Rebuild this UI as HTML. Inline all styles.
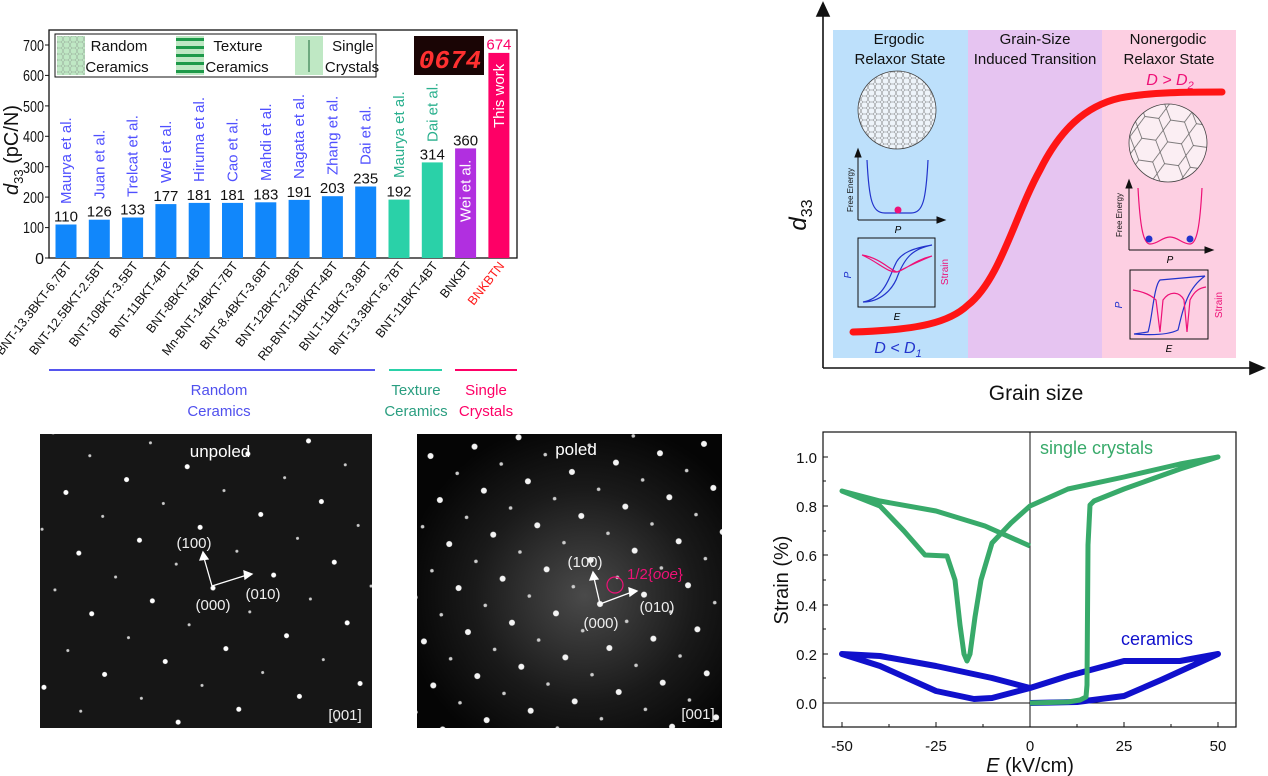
<!DOCTYPE html>
<html><head><meta charset="utf-8"><style>
html,body{margin:0;padding:0;background:#fff;}
svg{display:block;font-family:"Liberation Sans",sans-serif;}
</style></head><body>
<svg width="1268" height="776" viewBox="0 0 1268 776" xmlns="http://www.w3.org/2000/svg">
<defs>
<pattern id="hexS" width="7" height="6" patternUnits="userSpaceOnUse">
<path d="M0,3 L1.5,0 L5.5,0 L7,3 L5.5,6 L1.5,6 Z" fill="none" stroke="#777" stroke-width="0.5"/>
</pattern>
<pattern id="hexL" width="26" height="22" patternUnits="userSpaceOnUse" patternTransform="rotate(8)">
<path d="M0,11 L6,0 L20,0 L26,11 L20,22 L6,22 Z" fill="none" stroke="#555" stroke-width="0.7"/>
</pattern>
<pattern id="spot1" width="62" height="62" patternUnits="userSpaceOnUse" patternTransform="translate(213,588) rotate(-12)">
<circle cx="0" cy="0" r="2.5" fill="#fff"/><circle cx="62" cy="0" r="2.5" fill="#fff"/><circle cx="0" cy="62" r="2.5" fill="#fff"/><circle cx="62" cy="62" r="2.5" fill="#fff"/>
<circle cx="31" cy="31" r="1.5" fill="#ccc"/>
</pattern>
<pattern id="spot2" width="45" height="45" patternUnits="userSpaceOnUse" patternTransform="translate(600,604) rotate(-12)">
<circle cx="0" cy="0" r="3" fill="#f4f4f4"/><circle cx="45" cy="0" r="3" fill="#f4f4f4"/><circle cx="0" cy="45" r="3" fill="#f4f4f4"/><circle cx="45" cy="45" r="3" fill="#f4f4f4"/>
<circle cx="22.5" cy="22.5" r="1.8" fill="#ccc"/>
</pattern>
<radialGradient id="glow" cx="0.55" cy="0.55" r="0.6"><stop offset="0" stop-color="#4a4a4a"/><stop offset="0.6" stop-color="#1a1a1a"/><stop offset="1" stop-color="#050505"/></radialGradient>
<clipPath id="c1"><circle cx="897" cy="110" r="39"/></clipPath>
<clipPath id="c2"><circle cx="1168" cy="143" r="39"/></clipPath>
</defs>

<!-- ===== BAR CHART ===== -->
<g font-size="16" fill="#111">
<rect x="49" y="30" width="468" height="228" fill="none" stroke="#111" stroke-width="1.3"/>
<g text-anchor="end">
<text x="44" y="264">0</text><text x="44" y="233" textLength="21" lengthAdjust="spacingAndGlyphs">100</text><text x="44" y="203" textLength="21" lengthAdjust="spacingAndGlyphs">200</text><text x="44" y="173" textLength="21" lengthAdjust="spacingAndGlyphs">300</text><text x="44" y="142" textLength="21" lengthAdjust="spacingAndGlyphs">400</text><text x="44" y="112" textLength="21" lengthAdjust="spacingAndGlyphs">500</text><text x="44" y="81" textLength="21" lengthAdjust="spacingAndGlyphs">600</text><text x="44" y="51" textLength="21" lengthAdjust="spacingAndGlyphs">700</text>
</g>
<g stroke="#111" stroke-width="1"><line x1="45" y1="258" x2="49" y2="258"/><line x1="45" y1="227.6" x2="49" y2="227.6"/><line x1="45" y1="197.1" x2="49" y2="197.1"/><line x1="45" y1="166.7" x2="49" y2="166.7"/><line x1="45" y1="136.3" x2="49" y2="136.3"/><line x1="45" y1="105.9" x2="49" y2="105.9"/><line x1="45" y1="75.4" x2="49" y2="75.4"/><line x1="45" y1="45" x2="49" y2="45"/></g>
<text transform="translate(18,150) rotate(-90)" text-anchor="middle" font-size="20"><tspan font-style="italic">d</tspan><tspan font-size="13" dy="5">33</tspan><tspan dy="-5"> (pC/N)</tspan></text>
</g>
<g>
<rect x="55.5" y="224.5" width="21" height="33.5" fill="#1187fb"/>
<rect x="88.8" y="219.7" width="21" height="38.3" fill="#1187fb"/>
<rect x="122.1" y="217.5" width="21" height="40.5" fill="#1187fb"/>
<rect x="155.4" y="204.1" width="21" height="53.9" fill="#1187fb"/>
<rect x="188.7" y="202.9" width="21" height="55.1" fill="#1187fb"/>
<rect x="222" y="202.9" width="21" height="55.1" fill="#1187fb"/>
<rect x="255.3" y="202.3" width="21" height="55.7" fill="#1187fb"/>
<rect x="288.6" y="199.9" width="21" height="58.1" fill="#1187fb"/>
<rect x="321.9" y="196.2" width="21" height="61.8" fill="#1187fb"/>
<rect x="355.2" y="186.5" width="21" height="71.5" fill="#1187fb"/>
<rect x="388.5" y="199.6" width="21" height="58.4" fill="#2ad1a8"/>
<rect x="421.8" y="162.4" width="21" height="95.6" fill="#2ad1a8"/>
<rect x="455.1" y="148.4" width="21" height="109.6" fill="#b12fe0"/>
<rect x="488.4" y="52.9" width="21" height="205.1" fill="#fe0066"/>
</g>
<g font-size="15" fill="#111" text-anchor="middle">
<text x="66" y="221.5">110</text><text x="99.3" y="216.7">126</text><text x="132.6" y="214.5">133</text><text x="165.9" y="201.1">177</text><text x="199.2" y="199.9">181</text><text x="232.5" y="199.9">181</text><text x="265.8" y="199.3">183</text><text x="299.1" y="196.9">191</text><text x="332.4" y="193.2">203</text><text x="365.7" y="183.5">235</text><text x="399" y="196.6">192</text><text x="432.3" y="159.4">314</text><text x="465.6" y="145.4">360</text>
<text x="498.9" y="49.5" fill="#fe0066">674</text>
</g>
<g font-size="15" fill="#5050ff">
<text transform="translate(71,204) rotate(-90)">Maurya et al.</text>
<text transform="translate(104.3,199) rotate(-90)">Juan et al.</text>
<text transform="translate(137.6,197) rotate(-90)">Trelcat et al.</text>
<text transform="translate(170.9,183) rotate(-90)">Wei et al.</text>
<text transform="translate(204.2,182) rotate(-90)">Hiruma et al.</text>
<text transform="translate(237.5,182) rotate(-90)">Cao et al.</text>
<text transform="translate(270.8,181) rotate(-90)">Mahdi et al.</text>
<text transform="translate(304.1,179) rotate(-90)">Nagata et al.</text>
<text transform="translate(337.4,175) rotate(-90)">Zhang et al.</text>
<text transform="translate(370.7,165) rotate(-90)">Dai et al.</text>
<text transform="translate(404,178) rotate(-90)" fill="#2ab08e">Maurya et al.</text>
<text transform="translate(437.3,142) rotate(-90)" fill="#2ab08e">Dai et al.</text>
<text transform="translate(470.6,222) rotate(-90)" fill="#fff">Wei et al.</text>
<text transform="translate(503.9,128) rotate(-90)" fill="#fff">This work</text>
</g>
<g font-size="12.5" fill="#111" text-anchor="end">
<text transform="translate(72,266) rotate(-52)">BNT-13.3BKT-6.7BT</text>
<text transform="translate(105.3,266) rotate(-52)">BNT-12.5BKT-2.5BT</text>
<text transform="translate(138.6,266) rotate(-52)">BNT-10BKT-3.5BT</text>
<text transform="translate(171.9,266) rotate(-52)">BNT-11BKT-4BT</text>
<text transform="translate(205.2,266) rotate(-52)">BNT-8BKT-4BT</text>
<text transform="translate(238.5,266) rotate(-52)">Mn-BNT-14BKT-7BT</text>
<text transform="translate(271.8,266) rotate(-52)">BNT-8.4BKT-3.6BT</text>
<text transform="translate(305.1,266) rotate(-52)">BNT-12BKT-2.8BT</text>
<text transform="translate(338.4,266) rotate(-52)">Rb-BNT-11BKRT-4BT</text>
<text transform="translate(371.7,266) rotate(-52)">BNLT-11BKT-3.8BT</text>
<text transform="translate(405,266) rotate(-52)">BNT-13.3BKT-6.7BT</text>
<text transform="translate(438.3,266) rotate(-52)">BNT-11BKT-4BT</text>
<text transform="translate(471.6,266) rotate(-52)">BNKBT</text>
<text transform="translate(504.9,266) rotate(-52)" fill="#ff1a1a">BNKBTN</text>
</g>
<!-- legend -->
<rect x="55" y="34" width="321" height="43" fill="#fff" stroke="#111" stroke-width="1"/>
<rect x="57" y="36" width="28" height="39" fill="#bfe8c4"/>
<rect x="57" y="36" width="28" height="39" fill="url(#hexS)" opacity="0.6"/>
<rect x="176" y="36" width="28" height="39" fill="#bfe8c4"/>
<g fill="#1e9a4a"><rect x="176" y="38" width="28" height="3"/><rect x="176" y="46" width="28" height="3"/><rect x="176" y="54" width="28" height="3"/><rect x="176" y="62" width="28" height="3"/><rect x="176" y="70" width="28" height="3"/></g>
<rect x="295" y="36" width="28" height="39" fill="#bfe8c4"/>
<line x1="309" y1="40" x2="309" y2="72" stroke="#1e6a3a" stroke-width="1"/>
<g font-size="15" fill="#111" text-anchor="middle">
<text x="119" y="51">Random</text><text x="117" y="72">Ceramics</text>
<text x="238" y="51">Texture</text><text x="237" y="72">Ceramics</text>
<text x="353" y="51">Single</text><text x="352" y="72">Crystals</text>
</g>
<rect x="414" y="36" width="70" height="39" fill="#1a0505"/>
<text x="450" y="68" text-anchor="middle" font-size="26" font-style="italic" font-family="Liberation Mono" fill="#ff3030" font-weight="bold">0674</text>
<!-- category lines -->
<line x1="49" y1="370" x2="375" y2="370" stroke="#5555ee" stroke-width="2"/>
<line x1="389" y1="370" x2="442" y2="370" stroke="#2ad1a8" stroke-width="2"/>
<line x1="455" y1="370" x2="517" y2="370" stroke="#fe0066" stroke-width="2"/>
<g font-size="15" text-anchor="middle">
<text x="219" y="395" fill="#5050ee">Random</text><text x="219" y="416" fill="#5050ee">Ceramics</text>
<text x="416" y="395" fill="#2a9e80">Texture</text><text x="416" y="416" fill="#2a9e80">Ceramics</text>
<text x="486" y="395" fill="#fe0066">Single</text><text x="486" y="416" fill="#fe0066">Crystals</text>
</g>

<!-- ===== TOP RIGHT SCHEMATIC ===== -->
<rect x="833" y="30" width="135" height="328" fill="#bde0fb"/>
<rect x="968" y="30" width="134" height="328" fill="#e6c4f1"/>
<rect x="1102" y="30" width="134" height="328" fill="#fdcfe2"/>
<g stroke="#111" stroke-width="1.6" fill="#111">
<line x1="823" y1="368" x2="823" y2="10"/><path d="M817,16 L823,3 L829,16 Z"/>
<line x1="823" y1="368" x2="1255" y2="368"/><path d="M1250,362 L1264,368 L1250,374 Z"/>
</g>
<g font-size="15" fill="#111" text-anchor="middle">
<text x="899" y="44">Ergodic</text><text x="900" y="64">Relaxor State</text>
<text x="1035" y="44">Grain-Size</text><text x="1035" y="64">Induced Transition</text>
<text x="1168" y="44">Nonergodic</text><text x="1169" y="64">Relaxor State</text>
</g>
<text x="1170" y="85" text-anchor="middle" font-size="16" font-style="italic" fill="#ee1177">D &gt; D<tspan font-size="11" dy="4">2</tspan></text>
<text x="898" y="353" text-anchor="middle" font-size="16" font-style="italic" fill="#2233cc">D &lt; D<tspan font-size="11" dy="4">1</tspan></text>
<text transform="translate(806,215) rotate(-90)" text-anchor="middle" font-size="24" font-style="italic" fill="#111">d<tspan font-size="16" dy="6" font-style="normal">33</tspan></text>
<text x="1036" y="400" text-anchor="middle" font-size="21" fill="#111">Grain size</text>
<!-- grains -->
<circle cx="897" cy="110" r="39" fill="#eef4fa"/>
<rect x="855" y="70" width="84" height="80" fill="url(#hexS)" clip-path="url(#c1)"/>
<circle cx="897" cy="110" r="39" fill="none" stroke="#444" stroke-width="0.8"/>
<circle cx="1168" cy="143" r="39" fill="#fbeef3"/>
<rect x="1126" y="100" width="84" height="86" fill="url(#hexL)" clip-path="url(#c2)"/>
<circle cx="1168" cy="143" r="39" fill="none" stroke="#444" stroke-width="0.8"/>
<!-- free energy left -->
<g stroke="#111" stroke-width="1" fill="#111">
<line x1="858" y1="220" x2="858" y2="152"/><path d="M855,157 L858,149 L861,157Z"/>
<line x1="858" y1="220" x2="942" y2="220"/><path d="M937,217 L945,220 L937,223Z"/>
</g>
<path d="M867,160 C869,200 872,213 885,213 L911,213 C923,213 926,200 928,160" fill="none" stroke="#2233cc" stroke-width="1.2"/>
<circle cx="898" cy="210" r="3.5" fill="#ee1177"/>
<text transform="translate(853,190) rotate(-90)" text-anchor="middle" font-size="8" fill="#111">Free Energy</text>
<text x="898" y="233" text-anchor="middle" font-size="10" font-style="italic">P</text>
<rect x="858" y="238" width="77" height="69" fill="none" stroke="#111" stroke-width="1"/>
<path d="M863,302 C885,298 890,275 895,265 C900,252 915,248 932,245 C912,249 905,258 898,275 C893,290 880,302 863,302Z" fill="none" stroke="#2233cc" stroke-width="1.2"/>
<path d="M862,255 C880,258 890,270 897,272 C905,270 915,260 932,256 M862,255 C878,262 888,273 897,272 C905,268 917,262 932,256" fill="none" stroke="#ee1177" stroke-width="1.2"/>
<text transform="translate(851,275) rotate(-90)" text-anchor="middle" font-size="10" font-style="italic" fill="#2233cc">P</text>
<text transform="translate(948,272) rotate(-90)" text-anchor="middle" font-size="10" fill="#ee1177">Strain</text>
<text x="897" y="320" text-anchor="middle" font-size="10" font-style="italic">E</text>
<!-- free energy right -->
<g stroke="#111" stroke-width="1" fill="#111">
<line x1="1129" y1="250" x2="1129" y2="183"/><path d="M1126,188 L1129,180 L1132,188Z"/>
<line x1="1129" y1="250" x2="1210" y2="250"/><path d="M1205,247 L1213,250 L1205,253Z"/>
</g>
<path d="M1138,188 C1140,225 1143,244 1150,244 C1158,244 1162,237 1170,237 C1178,237 1182,244 1190,244 C1197,244 1200,225 1202,188" fill="none" stroke="#ee1177" stroke-width="1.2"/>
<circle cx="1149" cy="239" r="3.5" fill="#2233cc"/><circle cx="1190" cy="239" r="3.5" fill="#2233cc"/>
<text transform="translate(1122,215) rotate(-90)" text-anchor="middle" font-size="8" fill="#111">Free Energy</text>
<text x="1170" y="263" text-anchor="middle" font-size="10" font-style="italic">P</text>
<rect x="1130" y="270" width="78" height="69" fill="none" stroke="#111" stroke-width="1"/>
<path d="M1134,334 L1148,332 C1152,320 1154,285 1160,280 L1205,276 M1134,334 C1160,336 1172,333 1178,330 C1182,315 1185,290 1205,276" fill="none" stroke="#2233cc" stroke-width="1.2"/>
<path d="M1133,290 C1145,292 1152,296 1156,300 L1160,332 L1163,300 C1170,290 1180,292 1184,300 L1187,332 L1190,300 C1195,290 1200,288 1206,287" fill="none" stroke="#ee1177" stroke-width="1.2"/>
<text transform="translate(1122,305) rotate(-90)" text-anchor="middle" font-size="10" font-style="italic" fill="#2233cc">P</text>
<text transform="translate(1222,305) rotate(-90)" text-anchor="middle" font-size="10" fill="#ee1177">Strain</text>
<text x="1169" y="352" text-anchor="middle" font-size="10" font-style="italic">E</text>
<!-- sigmoid -->
<path d="M853,332 C920,330 950,322 968,305 C1000,280 1015,215 1040,170 C1060,130 1085,106 1120,98 C1150,92 1190,92 1222,92" fill="none" stroke="#ff1515" stroke-width="7" stroke-linecap="round"/>

<!-- ===== SAED IMAGES ===== -->
<rect x="40" y="434" width="332" height="294" fill="#161616"/>
<rect x="40" y="434" width="332" height="294" fill="url(#spot1)"/>
<rect x="417" y="434" width="305" height="294" fill="url(#glow)"/>
<rect x="417" y="434" width="305" height="294" fill="url(#spot2)"/>
<g fill="#fff" font-size="17" text-anchor="middle">
<text x="220" y="457">unpoled</text><text x="576" y="455">poled</text>
</g>
<g fill="#eee" font-size="15" text-anchor="middle">
<text x="194" y="548">(100)</text><text x="213" y="610">(000)</text><text x="263" y="599">(010)</text>
<text x="345" y="720">[001]</text>
<text x="585" y="567">(100)</text><text x="601" y="628">(000)</text><text x="657" y="612">(010)</text>
<text x="698" y="719">[001]</text>
</g>
<g stroke="#fff" stroke-width="1.3" fill="#fff">
<line x1="212" y1="586" x2="204" y2="558"/><path d="M200,560 L203,552 L208,559Z"/>
<line x1="212" y1="586" x2="247" y2="575"/><path d="M244,571 L252,574 L245,579Z"/>
<line x1="600" y1="604" x2="594" y2="578"/><path d="M590,580 L593,572 L598,579Z"/>
<line x1="600" y1="604" x2="632" y2="592"/><path d="M629,588 L637,591 L630,596Z"/>
</g>
<circle cx="615" cy="585" r="8" fill="none" stroke="#ee1177" stroke-width="1.2"/>
<text x="627" y="579" font-size="15" fill="#ee1177">1/2{<tspan font-style="italic">ooe</tspan>}</text>

<!-- ===== STRAIN LOOPS ===== -->
<rect x="823" y="432" width="413" height="295" fill="none" stroke="#111" stroke-width="1.2"/>
<line x1="1030" y1="432" x2="1030" y2="727" stroke="#111" stroke-width="1"/>
<line x1="823" y1="703" x2="1236" y2="703" stroke="#111" stroke-width="1"/>
<g stroke="#111" stroke-width="1">
<line x1="842" y1="727" x2="842" y2="722"/><line x1="936" y1="727" x2="936" y2="722"/><line x1="1124" y1="727" x2="1124" y2="722"/><line x1="1218" y1="727" x2="1218" y2="722"/>
<line x1="889" y1="727" x2="889" y2="724"/><line x1="983" y1="727" x2="983" y2="724"/><line x1="1077" y1="727" x2="1077" y2="724"/><line x1="1171" y1="727" x2="1171" y2="724"/>
<line x1="823" y1="703" x2="828" y2="703"/><line x1="823" y1="654" x2="828" y2="654"/><line x1="823" y1="605" x2="828" y2="605"/><line x1="823" y1="555" x2="828" y2="555"/><line x1="823" y1="506" x2="828" y2="506"/><line x1="823" y1="457" x2="828" y2="457"/>
<line x1="823" y1="678" x2="826" y2="678"/><line x1="823" y1="629" x2="826" y2="629"/><line x1="823" y1="580" x2="826" y2="580"/><line x1="823" y1="531" x2="826" y2="531"/><line x1="823" y1="481" x2="826" y2="481"/>
</g>
<g font-size="15" fill="#111" text-anchor="end">
<text x="817" y="709">0.0</text><text x="817" y="660">0.2</text><text x="817" y="611">0.4</text><text x="817" y="561">0.6</text><text x="817" y="512">0.8</text><text x="817" y="463">1.0</text>
</g>
<g font-size="15" fill="#111" text-anchor="middle">
<text x="842" y="751">-50</text><text x="936" y="751">-25</text><text x="1030" y="751">0</text><text x="1124" y="751">25</text><text x="1218" y="751">50</text>
</g>
<text x="1030" y="772" text-anchor="middle" font-size="20" fill="#111"><tspan font-style="italic">E</tspan> (kV/cm)</text>
<text transform="translate(788,580) rotate(-90)" text-anchor="middle" font-size="20" fill="#111">Strain (%)</text>
<path d="M1030,703 L1077,702 L1124,696 L1161,680 L1218,654 L1180,661 L1124,661 L1068,676 L1030,688 L992,698 L974,699 L936,691 L880,666 L842,654 L880,656 L936,666 L992,678 L1030,688" fill="none" stroke="#1010cc" stroke-width="6" stroke-linejoin="round"/>
<path d="M1030,703 L1068,702 L1080,700 L1086,697 L1087,685 L1088,545 L1090,505 L1094,501 L1124,489 L1180,469 L1218,457 L1180,464 L1124,477 L1068,489 L1030,506 L1011,523 L992,543 L981,580 L975,617 L970,654 L967,661 L964,654 L960,625 L955,580 L947,556 L925,555 L904,531 L880,506 L842,491 L880,501 L936,511 L985,526 L1030,546" fill="none" stroke="#38aa6a" stroke-width="5" stroke-linejoin="round"/>
<text x="1040" y="454" font-size="18" fill="#38aa6a">single crystals</text>
<text x="1121" y="645" font-size="18" fill="#1010cc">ceramics</text>
</svg>
</body></html>
